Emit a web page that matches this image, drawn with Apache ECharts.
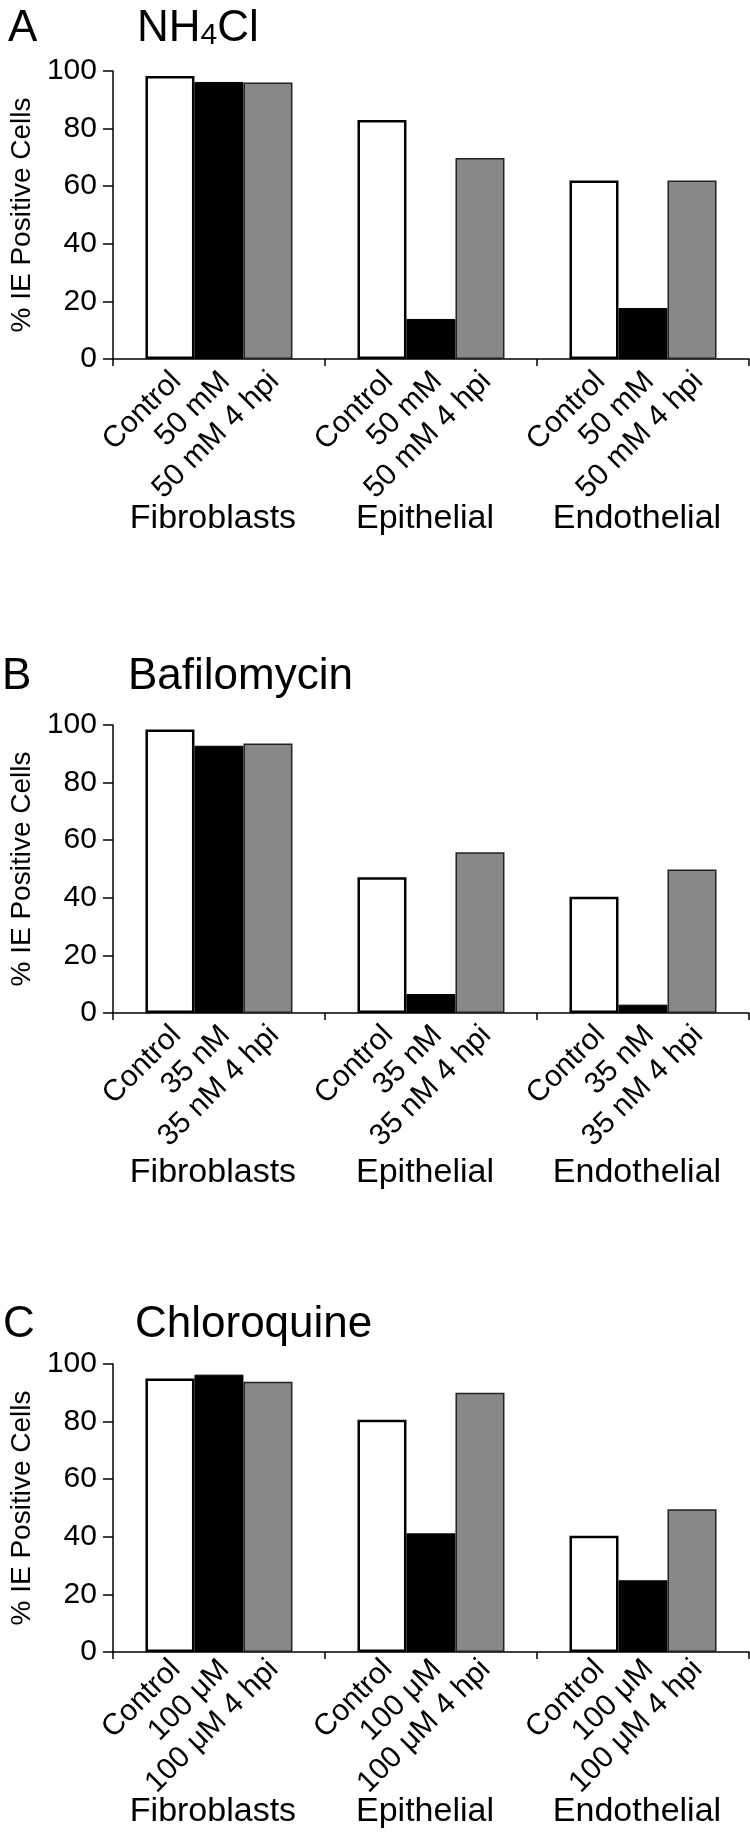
<!DOCTYPE html>
<html>
<head>
<meta charset="utf-8">
<script src="https://cdn.jsdelivr.net/npm/echarts@6/dist/echarts.min.js"></script>
<style>
  html, body { margin: 0; padding: 0; background: #fff; }
  #chart { width: 750px; height: 1841px; }
</style>
</head>
<body>
<div id="chart"></div>
<script>
// categories and values
const groups = ["Fibroblasts", "Epithelial", "Endothelial"];
const panelLetters = ["A", "B", "C"];
const drugTitles = ["{a|NH}{s|4}{a|Cl}", "Bafilomycin", "Chloroquine"];
const treatA = ["Control", "50 mM", "50 mM 4 hpi"];
const treatB = ["Control", "35 nM", "35 nM 4 hpi"];
const treatC = ["Control", "100 μM", "100 μM 4 hpi"];

const controlA = [98.3, 83.0, 62.0];
const drugA = [96.2, 13.9, 17.7];
const lateA = [96.0, 69.8, 62.0];

const controlB = [98.4, 47.1, 40.4];
const drugB = [92.8, 6.6, 2.9];
const lateB = [93.6, 55.8, 49.8];

const controlC = [95.0, 80.6, 40.4];
const drugC = [96.3, 41.2, 24.9];
const lateC = [93.8, 90.0, 49.6];

const yTicks = [0, 20, 40, 60, 80, 100];

const panels = [
  { names: treatA, values: [controlA, drugA, lateA] },
  { names: treatB, values: [controlB, drugB, lateB] },
  { names: treatC, values: [controlC, drugC, lateC] },
];

let chartDom = document.getElementById("chart");
let myChart = echarts.init(chartDom);
let option;

const FONT = "Liberation Sans";
const gridTops = [71, 725, 1364];
const titleTops = [2, 650, 1298];
const letterLefts = [3, -3, -2];
const drugLefts = [132, 123, 130];
// rotated-label offsets (applied in the rotated frame)
const labelOffsets = [[-8, 17], [-8, 17], [-5, 13]];

const barStyles = [
  { color: "#ffffff", borderColor: "#000000", borderWidth: 2.5 },
  { color: "#000000", borderColor: "#000000", borderWidth: 1 },
  { color: "#888888", borderColor: "#222222", borderWidth: 1.5 },
];

let titles = [];
let grids = [];
let xAxes = [];
let yAxes = [];
let series = [];

panels.forEach((p, i) => {
  titles.push({
    text: panelLetters[i],
    left: letterLefts[i],
    top: titleTops[i],
    textStyle: { fontFamily: FONT, fontSize: 44, fontWeight: "normal", color: "#000" },
  });
  titles.push({
    text: drugTitles[i],
    left: drugLefts[i],
    top: titleTops[i],
    textStyle: {
      fontFamily: FONT, fontSize: 44, fontWeight: "normal", color: "#000",
      rich: {
        a: { fontFamily: FONT, fontSize: 44, color: "#000" },
        s: { fontFamily: FONT, fontSize: 30, color: "#000", verticalAlign: "bottom" },
      },
    },
  });

  grids.push({ left: 99, width: 650, top: gridTops[i], height: 288 });

  xAxes.push({
    type: "category",
    gridIndex: i,
    data: groups,
    axisLine: { show: true, lineStyle: { color: "#000", width: 1.5 } },
    axisTick: { show: true, length: 7, lineStyle: { color: "#000", width: 1.5 } },
    axisLabel: {
      interval: 0, fontFamily: FONT, fontSize: 34, color: "#000",
      margin: 143, padding: [0, 12, 0, 0],
    },
  });

  yAxes.push({
    type: "value",
    gridIndex: i,
    min: yTicks[0],
    max: yTicks[yTicks.length - 1],
    interval: 20,
    name: "% IE Positive Cells",
    nameLocation: "middle",
    nameRotate: 90,
    nameGap: 64,
    nameTextStyle: { fontFamily: FONT, fontSize: 28, color: "#000" },
    axisLine: { show: true, lineStyle: { color: "#000", width: 1.5 } },
    axisTick: { show: true, length: 10, lineStyle: { color: "#000", width: 1.5 } },
    axisLabel: { fontFamily: FONT, fontSize: 30, color: "#000", margin: 16 },
    splitLine: { show: false },
  });

  p.names.forEach((name, k) => {
    series.push({
      name: name,
      type: "bar",
      xAxisIndex: i,
      yAxisIndex: i,
      barWidth: 49,
      barGap: "0%",
      data: p.values[k],
      itemStyle: barStyles[k],
      label: {
        show: true,
        formatter: "{a}",
        position: ["50%", "100%"],
        rotate: 45,
        align: "right",
        verticalAlign: "middle",
        offset: labelOffsets[i],
        fontFamily: FONT,
        fontSize: 30,
        color: "#000",
      },
      emphasis: { disabled: true },
      animation: false,
    });
  });
});

option = {
  backgroundColor: "#ffffff",
  animation: false,
  title: titles,
  grid: grids,
  xAxis: xAxes,
  yAxis: yAxes,
  series: series,
};

option && myChart.setOption(option);
</script>
</body>
</html>
